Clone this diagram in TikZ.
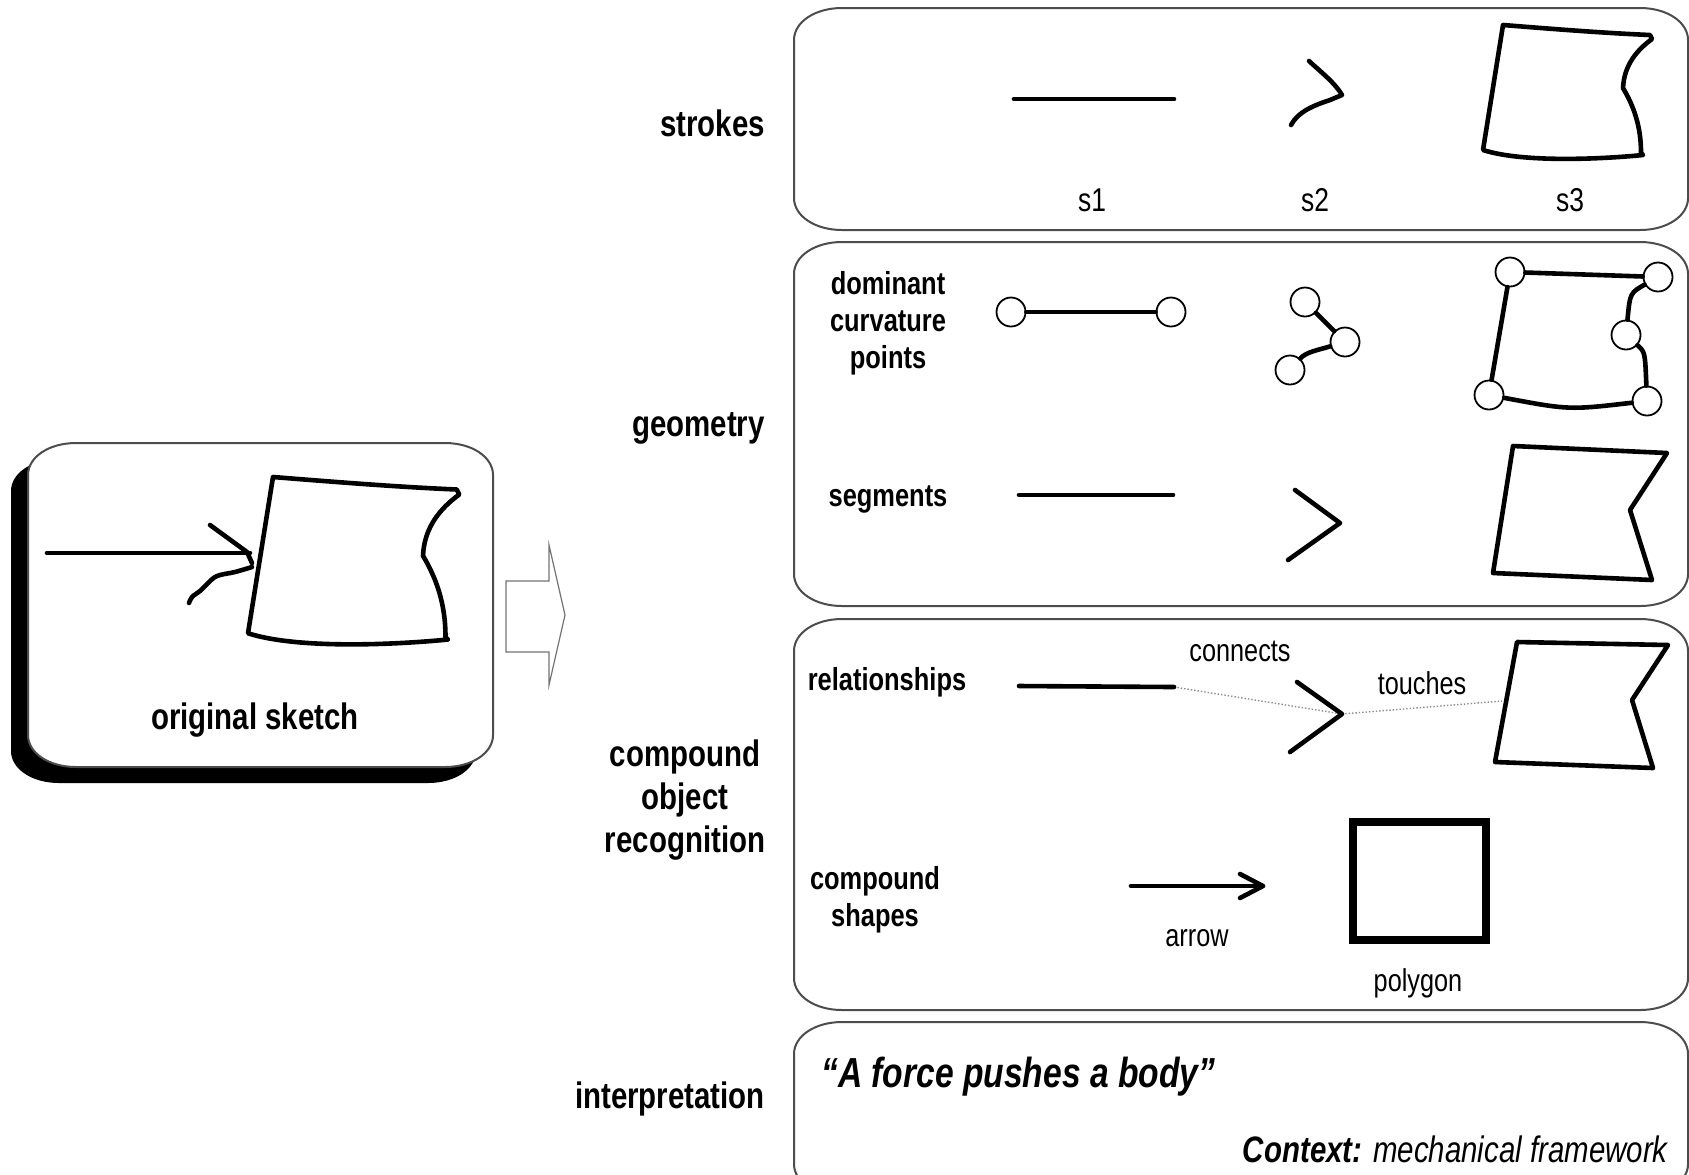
\documentclass[tikz,border=0pt]{standalone}
\usepackage{fontspec}
\setmainfont{Liberation Sans}[FakeStretch=0.8]

\tikzset{every picture/.style={line width=0.75pt}}
\tikzset{
  panel/.style={draw=black!70, line width=1pt, fill=white},
  ink/.style={line width=2.3pt, line cap=round, line join=round},
  cpt/.style={circle, draw, fill=white, line width=0.9pt, minimum size=14.5pt, inner sep=0pt},
  rel/.style={densely dotted, draw=black!45, line width=0.7pt},
  hollow/.style={draw=black!55, line width=0.6pt, fill=white},
  lbl/.style={font=\fontsize{18.4}{21.5}\selectfont\bfseries, inner sep=0.75pt, align=center},
  sublbl/.style={font=\fontsize{15.9}{18.5}\selectfont\bfseries, inner sep=0.75pt, align=center},
  smalltag/.style={font=\fontsize{15.8}{19}\selectfont, inner sep=0.75pt}
}

% rounded box with wide, flat corners: [style]{x1}{y1}{x2}{y2}
\newcommand{\roundpanel}[5][]{%
  \draw[#1] (#2+48,#3) -- (#4-48,#3) .. controls (#4-21,#3) and (#4,#3+14) .. (#4,#3+32)
    -- (#4,#5-32) .. controls (#4,#5-14) and (#4-21,#5) .. (#4-48,#5)
    -- (#2+48,#5) .. controls (#2+21,#5) and (#2,#5-14) .. (#2,#5-32)
    -- (#2,#3+32) .. controls (#2,#3+14) and (#2+21,#3) .. (#2+48,#3) -- cycle;}

% the hand drawn body, top left corner at (0,0)
\newcommand{\quadstroke}{%
  \draw[ink] (-20,125) -- (0,0) .. controls (50,4) and (100,8) .. (147,10) -- (149,14)
    .. controls (134,25) and (121,40) .. (120,63) .. controls (130,80) and (138,100) .. (138,128)
    -- (140,130) .. controls (100,134) and (20,138) .. (-20,125) -- cycle;}

\begin{document}
\begin{tikzpicture}[x=0.5pt,y=0.5pt,yscale=-1]
\useasboundingbox (0,0) rectangle (1689,1174);

%Shape: Rounded Rect [original sketch]
\roundpanel[fill=black,draw=none]{11}{459}{476}{783}
\roundpanel[panel]{28}{443}{493}{767}
%Straight Lines
\draw[ink] (47,553) -- (250,553) ;
\draw[ink] (210,525) -- (247,552) -- (252,563) ;
%Curve Lines
\draw[ink] plot[smooth, tension=0.6] coordinates {(252,567) (235,572) (217,576) (207,584) (200,591) (192,597) (189,603)} ;
\begin{scope}[shift={(273,477)}, scale=1.25]
  \quadstroke
\end{scope}
% Text Node
\draw (255,720) node [lbl] (sketch) {original sketch};

%Shape: Right Arrow
\draw[hollow] (506,581) -- (549,581) -- (549,545) -- (565,615) -- (549,685) -- (549,652) -- (506,652) -- cycle ;

% Text Node
\draw (767,123) node [lbl, anchor=east] (strokes) {strokes};
% Text Node
\draw (767,428) node [lbl, anchor=east] (geometry) {geometry};
% Text Node
\draw (685,800) node [lbl] (compound) {compound\\object\\recognition};
% Text Node
\draw (767,1099) node [lbl, anchor=east] (interp) {interpretation};

%Shape: Rounded Rect [strokes]
\roundpanel[panel]{794}{8}{1688}{230}
\draw[ink] (1014,99) -- (1174,99) ;
\draw[ink] (1309,61) .. controls (1322,73) and (1335,83) .. (1342,95) -- (1330,100) .. controls (1312,106) and (1298,112) .. (1291,125) ;
\begin{scope}[shift={(1503,25)}]
  \quadstroke
\end{scope}
\draw (1092,200) node [smalltag, font=\fontsize{16.5}{19}\selectfont] (sa) {s1};
\draw (1315,200) node [smalltag, font=\fontsize{16.5}{19}\selectfont] (sb) {s2};
\draw (1570,200) node [smalltag, font=\fontsize{16.5}{19}\selectfont] (sc) {s3};

%Shape: Rounded Rect [geometry]
\roundpanel[panel]{794}{242}{1688}{606}
% Text Node
\draw (888,323) node [sublbl] (dominant) {dominant\\curvature\\points};
%Shape: Circle
\node[cpt] (p1a) at (1011,312) {};
\node[cpt] (p1b) at (1171,312) {};
\node[cpt] (p2a) at (1305,302) {};
\node[cpt] (p2b) at (1345,342) {};
\node[cpt] (p2c) at (1290,370) {};
\node[cpt] (p3a) at (1510,272) {};
\node[cpt] (p3b) at (1658,277) {};
\node[cpt] (p3c) at (1626,335) {};
\node[cpt] (p3d) at (1489,395) {};
\node[cpt] (p3e) at (1647,401) {};
\draw[ink] (p1a) -- (p1b) ;
\draw[ink] (p2a) -- (p2b) ;
\draw[ink] (p2b) .. controls (1318,350) and (1306,352) .. (p2c) ;
\draw[ink] (p3a) -- (p3b) ;
\draw[ink] (p3b) .. controls (1630,293) .. (p3c) ;
\draw[ink] (p3c) .. controls (1645,352) .. (p3e) ;
\draw[ink] (p3e) .. controls (1569,410) .. (p3d) ;
\draw[ink] (p3d) -- (p3a) ;
% Text Node
\draw (888,499) node [sublbl] (segments) {segments};
\draw[ink] (1019,495) -- (1173,495) ;
\draw[ink] (1295,490) -- (1340,523) -- (1288,560) ;
\draw[ink] (1513,446) -- (1667,453) -- (1630,510) -- (1652,580) -- (1493,573) -- cycle ;

%Shape: Rounded Rect [compound object recognition]
\roundpanel[panel]{794}{619}{1688}{1010}
% Text Node
\draw (887,682) node [sublbl] (relations) {relationships};
\draw (1240,651) node [smalltag] (connects) {connects};
\draw (1422,683) node [smalltag] (touches) {touches};
\coordinate (relA) at (1174,687);
\coordinate (relB) at (1342,714);
\coordinate (relC) at (1502,701);
\draw[rel] (relA) -- (relB) -- (relC) ;
\draw[ink] (1019,686) -- (relA) ;
\draw[ink] (1297,682) -- (relB) -- (1290,752) ;
\draw[ink] (1517,642) -- (1668,645) -- (1632,700) -- (1653,768) -- (1495,762) -- cycle ;
% Text Node
\draw (875,900) node [sublbl] (cshapes) {compound\\shapes};
\draw[ink] (1131,886) -- (1263,886) ;
\draw[ink] (1240,874) -- (1263,886) -- (1240,898) ;
\draw (1197,938) node [smalltag] (arrowlbl) {arrow};
\draw[line width=4pt] (1353,822) rectangle (1486,940) ;
\draw (1418,983) node [smalltag] (polylbl) {polygon};

%Shape: Rounded Rect [interpretation]
\roundpanel[panel]{794}{1022}{1688}{1196}
% Text Node
\draw (819,1077) node [anchor=west, inner sep=0.75pt, font=\fontsize{21}{24}\selectfont\bfseries\itshape] (quote) {“A force pushes a body”};
\draw (1670,1149) node [anchor=east, inner sep=0.75pt, font=\fontsize{18.4}{21}\selectfont\itshape] (context) {\textbf{Context:} mechanical framework};

\end{tikzpicture}
\end{document}
